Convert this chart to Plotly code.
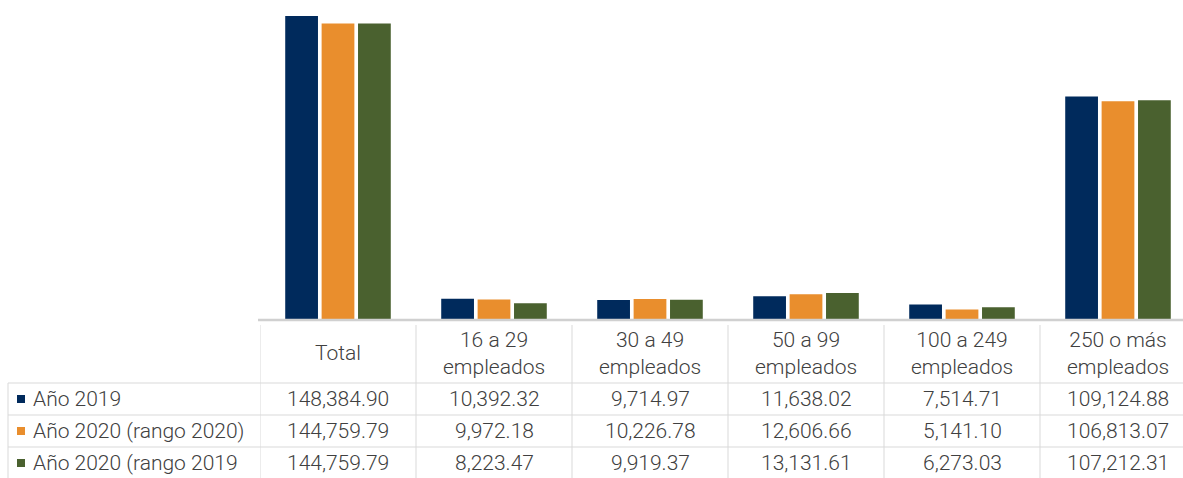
import plotly.graph_objects as go

categorias = ["Total", "16 a 29<br>empleados", "30 a 49<br>empleados",
              "50 a 99<br>empleados", "100 a 249<br>empleados", "250 o más<br>empleados"]
series = ["Año 2019", "Año 2020 (rango 2020)", "Año 2020 (rango 2019"]
anio_2019 = [148384.90, 10392.32, 9714.97, 11638.02, 7514.71, 109124.88]
anio_2020_r2020 = [144759.79, 9972.18, 10226.78, 12606.66, 5141.10, 106813.07]
anio_2020_r2019 = [144759.79, 8223.47, 9919.37, 13131.61, 6273.03, 107212.31]
colores = ["#002A5C", "#E98E2D", "#4A612F"]

valores = [anio_2019, anio_2020_r2020, anio_2020_r2019]

W, H = 1183, 478
FONT = "Roboto, sans-serif"
TXT = "#404040"
GRID = "#d9d9d9"


def px(x):
    return x / W


def py(y):
    return 1 - y / H


def fnt():
    return dict(size=21, color=TXT, family=FONT, weight=300)


fig = go.Figure()
for nombre, vals, col in zip(series, valores, colores):
    fig.add_trace(go.Bar(x=list(range(len(categorias))), y=vals, name=nombre,
                         marker=dict(color=col, line=dict(width=0))))

# ejes: la ultima columna queda cortada a la derecha
col_w = 156
x_end = 5.5 - (260 + 6 * col_w - W) / col_w

fig.update_layout(
    width=W, height=H,
    margin=dict(l=0, r=0, t=0, b=0),
    paper_bgcolor="white", plot_bgcolor="white",
    barmode="group", bargap=0.30, bargroupgap=0.1,
    showlegend=False,
    font=fnt(),
    xaxis=dict(domain=[px(260), 1], range=[-0.5, x_end], showticklabels=False,
               showgrid=False, zeroline=False, showline=False),
    yaxis=dict(domain=[py(320), 1], range=[0, 148384.90 * 320 / 304],
               visible=False),
)

shapes = []
annotations = []

# linea base del eje
shapes.append(dict(type="line", xref="paper", yref="paper", x0=px(258), x1=1,
                   y0=py(320), y1=py(320), line=dict(color="#d0d0d0", width=2.5)))

# lineas verticales de la tabla
for i in range(6):
    xc = i - 0.5
    shapes.append(dict(type="line", xref="x", yref="paper", x0=xc, x1=xc,
                       y0=py(325), y1=0, line=dict(color=GRID, width=1)))
shapes.append(dict(type="line", xref="paper", yref="paper", x0=px(8), x1=px(8),
                   y0=py(383), y1=0, line=dict(color=GRID, width=1)))

# lineas horizontales
for yy in [383, 415, 447]:
    shapes.append(dict(type="line", xref="paper", yref="paper", x0=px(8), x1=1,
                       y0=py(yy), y1=py(yy), line=dict(color=GRID, width=1)))

# encabezados
for i, cat in enumerate(categorias):
    annotations.append(dict(x=i, y=py(353), xref="x", yref="paper", text=cat,
                            showarrow=False, xanchor="center", yanchor="middle",
                            font=fnt()))

# filas
row_y = [399, 431, 463]
for r, (nombre, vals, col) in enumerate(zip(series, valores, colores)):
    yc = row_y[r]
    shapes.append(dict(type="rect", xref="paper", yref="paper",
                       x0=px(17), x1=px(25), y0=py(yc - 4), y1=py(yc + 4),
                       fillcolor=col, line=dict(width=0)))
    annotations.append(dict(x=px(31), y=py(yc), xref="paper", yref="paper",
                            text=nombre, showarrow=False, xanchor="left",
                            yanchor="middle", font=fnt()))
    for i, v in enumerate(vals):
        annotations.append(dict(x=i, y=py(yc), xref="x", yref="paper",
                                text=f"{v:,.2f}", showarrow=False, xanchor="center",
                                yanchor="middle", font=fnt()))

fig.update_layout(shapes=shapes, annotations=annotations)
fig.write_html("out.html", config={"displayModeBar": False},
               post_script="document.body.style.margin='0';")
